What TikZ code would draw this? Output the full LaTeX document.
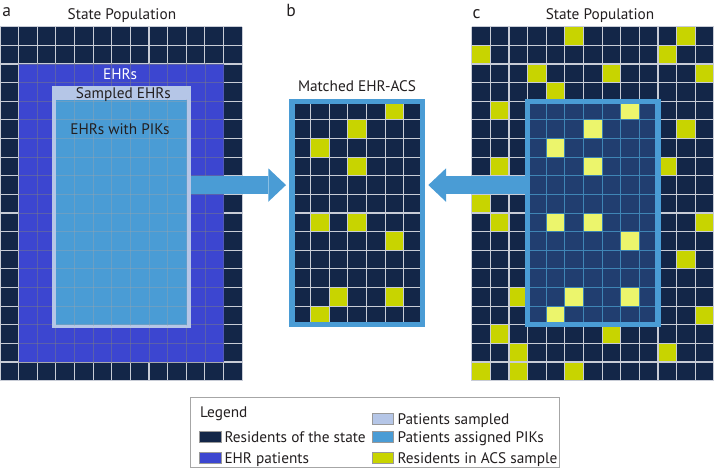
\documentclass[tikz,border=0pt]{standalone}
\usepackage{fontspec}
\setmainfont{PT Sans}
\usepackage{tikz}
\usetikzlibrary{arrows.meta,calc}

\definecolor{popnavy}{RGB}{19,38,72}
\definecolor{ehrblue}{RGB}{60,70,208}
\definecolor{samplelav}{RGB}{181,198,231}
\definecolor{pikblue}{RGB}{74,156,213}
\definecolor{acsyellow}{RGB}{200,212,0}
\definecolor{boxnavy}{RGB}{33,62,112}
\definecolor{boxyellow}{RGB}{236,245,108}
\definecolor{gridwhite}{RGB}{200,204,214}
\definecolor{inkgray}{RGB}{35,31,32}

\def\cs{18.63}
\def\gy{26.7}
\def\bx{236.11}
\def\cx{471.7}
\def\acsouter{5/0,11/0,0/1,10/1,3/2,7/2,12/2,4/3,1/4,11/5,1/7,10/7,0/9,1/10,12/10,11/12,2/14,12/15,1/16,7/16,2/17,10/17,0/18,2/18,5/18}
\def\acsinner{8/4,6/5,4/6,6/7,4/10,6/10,8/11,5/14,8/14,4/15}

\newcommand{\cellgrid}[5]{%
  \foreach \gi in {0,...,#4} \draw[#1] ({#2+\gi*\cs},#3) -- ++(0,{#5*\cs});
  \foreach \gj in {0,...,#5} \draw[#1] (#2,{#3+\gj*\cs}) -- ++({#4*\cs},0);
}
\newcommand{\acscells}[4]{%
  \foreach \ci/\ri in #4 \fill[#1] ({#2+\ci*\cs},{#3+\ri*\cs}) rectangle ++(\cs,\cs);
}

\tikzset{
  gridline/.style={draw=gridwhite, line width=1.1pt},
  ehrline/.style={draw=gray, opacity=.45, line width=.8pt},
  pikline/.style={draw=gray!70, opacity=.35, line width=.8pt},
  boxline/.style={draw=pikblue!85!black, line width=.8pt},
  frameline/.style={draw=pikblue, line width=5.4pt},
  blockarrow/.style={draw=pikblue, line width=17.3pt, -{Triangle[length=17.7pt,width=33.4pt,line width=0pt]}},
  panellabel/.style={anchor=base, text=inkgray, font=\fontsize{17.5}{20}\selectfont},
  titlelabel/.style={anchor=base, text=inkgray, font=\fontsize{15.3}{18}\selectfont},
  legendtext/.style={anchor=base west, text=inkgray, font=\fontsize{15.3}{18}\selectfont, inner sep=0pt},
  swatch/.style={draw=gray!80, line width=.6pt}
}

\begin{document}
\begin{tikzpicture}[x=1pt,y=-1pt]
  \useasboundingbox (0,0) rectangle (714,468);

  \fill[popnavy] (0,\gy) rectangle ++(13*\cs,19*\cs);
  \cellgrid{gridline}{0}{\gy}{13}{19}
  \fill[ehrblue] (\cs,\gy+2*\cs) rectangle (12*\cs,\gy+18*\cs);
  \begin{scope}
    \clip (\cs,\gy+2*\cs) rectangle (12*\cs,\gy+18*\cs);
    \cellgrid{ehrline}{0}{\gy}{13}{19}
  \end{scope}
  \fill[samplelav] (52.3,85.7) rectangle (190.7,328.3);
  \fill[pikblue] (56,100) rectangle (186.7,325);
  \begin{scope}
    \clip (56,100) rectangle (186.7,325);
    \cellgrid{pikline}{0}{\gy}{13}{19}
  \end{scope}
  \node[panellabel] (labA) at (6.7,16.7) {a};
  \node[titlelabel] (titleA) at (121.9,20) {State Population};
  \node[titlelabel,text=white] (ehrs) at (120,79.3) {EHRs};
  \node[titlelabel] (sampled) at (123.3,98.5) {Sampled EHRs};
  \node[titlelabel] (piks) at (120,134.7) {EHRs with PIKs};

  \fill[popnavy] (\bx+3*\cs,\gy+4*\cs) rectangle ++(7*\cs,12*\cs);
  \acscells{acsyellow}{\bx}{\gy}{\acsinner}
  \cellgrid{gridline}{\bx+3*\cs}{\gy+4*\cs}{7}{12}
  \draw[frameline] (\bx+3*\cs,\gy+4*\cs) rectangle ++(7*\cs,12*\cs);
  \node[panellabel] (labB) at (291,17) {b};
  \node[titlelabel] (titleB) at (357,92) {Matched EHR-ACS};

  \fill[popnavy] (\cx,\gy) rectangle ++(13*\cs,19*\cs);
  \acscells{acsyellow}{\cx}{\gy}{\acsouter}
  \cellgrid{gridline}{\cx}{\gy}{13}{19}
  \fill[boxnavy] (\cx+3*\cs,\gy+4*\cs) rectangle ++(7*\cs,12*\cs);
  \acscells{boxyellow}{\cx}{\gy}{\acsinner}
  \cellgrid{boxline}{\cx+3*\cs}{\gy+4*\cs}{7}{12}
  \node[panellabel] (labC) at (476.5,18.3) {c};
  \node[titlelabel] (titleC) at (600,20) {State Population};

  \coordinate (sampleE) at (190.7,\gy+8.5*\cs);
  \coordinate (matchW) at (286,\gy+8.5*\cs);
  \coordinate (matchE) at (428.3,\gy+8.5*\cs);
  \coordinate (boxW) at (\cx+3*\cs,\gy+8.5*\cs);
  \draw[blockarrow] (sampleE) -- (matchW);
  \draw[blockarrow] (boxW) -- (matchE);
  \draw[frameline] (\cx+3*\cs,\gy+4*\cs) rectangle ++(7*\cs,12*\cs);

  \draw[draw=gray!70, line width=.8pt] (190,397.5) rectangle (559,467.2);
  \node[legendtext] (legTitle) at (200,417.3) {Legend};
  \foreach \yy/\col/\txt [count=\k] in {442.3/popnavy/Residents of the state, 463.3/ehrblue/EHR patients} {
    \filldraw[swatch, fill=\col] (199.3,\yy-10.6) rectangle (221,\yy);
    \node[legendtext] (legL\k) at (224.3,\yy) {\txt};
  }
  \foreach \yy/\col/\txt [count=\k] in {424/samplelav/Patients sampled, 442.3/pikblue/Patients assigned PIKs, 463.3/acsyellow/Residents in ACS sample} {
    \filldraw[swatch, fill=\col] (372.7,\yy-10.6) rectangle (393.3,\yy);
    \node[legendtext] (legR\k) at (397.3,\yy) {\txt};
  }
\end{tikzpicture}
\end{document}
